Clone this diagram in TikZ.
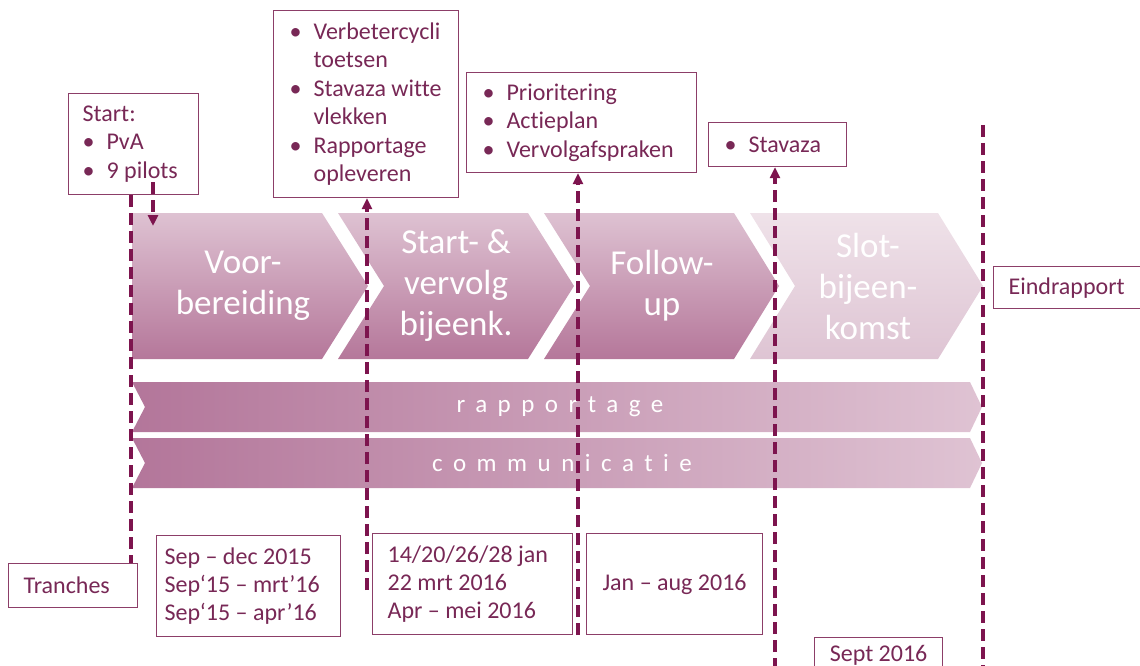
\documentclass[tikz,border=0pt]{standalone}
\usepackage{fontspec}
\setmainfont{Carlito}[Ligatures={TeX,NoCommon}]
\usetikzlibrary{arrows.meta}

\definecolor{plum}{RGB}{125,20,78}
\definecolor{boxline}{RGB}{140,62,104}
\definecolor{boxtext}{RGB}{120,40,86}
\definecolor{chevtop}{RGB}{222,194,210}
\definecolor{chevbot}{RGB}{181,119,154}
\definecolor{lasttop}{RGB}{239,226,233}
\definecolor{lastbot}{RGB}{222,196,211}
\definecolor{bandleft}{RGB}{179,118,154}
\definecolor{bandright}{RGB}{223,195,211}

\newcommand{\blt}{\makebox[24pt][l]{\textbullet}}
\newcommand{\bltind}{\hspace*{24pt}}

\begin{document}
\begin{tikzpicture}[x=1pt, y=-1pt,
  infobox/.style={draw=boxline, line width=1.2pt, text=boxtext, fill=white,
    font=\fontsize{24}{28.4}\selectfont, align=flush left, inner ysep=0pt,
    anchor=north west},
  phase/.style={text=white, font=\fontsize{35}{41}\selectfont, align=flush center},
  banner/.style={text=white,
    font=\fontsize{25}{28}\selectfont\addfontfeature{LetterSpace=42}},
  timeline/.style={draw=plum, line width=3.6pt, dash pattern=on 12pt off 6pt},
  tip/.style={-{Triangle[length=11pt,width=10pt]}}]

  \useasboundingbox (0,0) rectangle (1140,666);

  % Phase chevrons
  \shade[top color=chevtop, bottom color=chevbot]
    (132,213) -- (322,213) -- (368,286) -- (322,359) -- (132,359) -- cycle;
  \shade[top color=chevtop, bottom color=chevbot]
    (338,213) -- (528,213) -- (574,286) -- (528,359) -- (338,359) -- (384,286) -- cycle;
  \shade[top color=chevtop, bottom color=chevbot]
    (544,213) -- (734,213) -- (779,286) -- (734,359) -- (544,359) -- (590,286) -- cycle;
  \shade[top color=lasttop, bottom color=lastbot]
    (750,213) -- (938,213) -- (983,286) -- (938,359) -- (750,359) -- (795,286) -- cycle;

  \node[phase] (voor)   at (243,286) {Voor-\\bereiding};
  \node[phase] (startv) at (456,286) {Start- \&\\vervolg\\bijeenk.};
  \node[phase] (follow) at (662,286) {Follow-\\up};
  \node[phase] (slot)   at (868,286) {Slot-\\bijeen-\\komst};

  % Running bands
  \shade[left color=bandleft, right color=bandright]
    (132,382) -- (970,382) -- (982,407) -- (970,432) -- (132,432) -- (145,407) -- cycle;
  \shade[left color=bandleft, right color=bandright]
    (132,438) -- (970,438) -- (982,463) -- (970,488) -- (132,488) -- (145,463) -- cycle;

  \node[banner] (rapp) at (560,407) {rapportage};
  \node[banner] (comm) at (562,463) {communicatie};

  % Boxes above the phases
  \node[infobox, text width=102pt, inner xsep=14pt, minimum height=101pt]
    (start) at (68,93) {Start:\\\blt PvA\\\blt 9 pilots};
  \node[infobox, text width=153pt, inner xsep=16pt, minimum height=187pt]
    (cycli) at (273,10) {\blt Verbetercycli\\\bltind toetsen\\\blt Stavaza witte\\\bltind vlekken\\\blt Rapportage\\\bltind opleveren};
  \node[infobox, text width=198pt, inner xsep=16pt, minimum height=100pt]
    (prio) at (466,72) {\blt Prioritering\\\blt Actieplan\\\blt Vervolgafspraken};
  \node[infobox, text width=106pt, inner xsep=16pt, minimum height=44pt]
    (stav) at (708,122) {\blt Stavaza};
  \node[infobox, text width=135pt, inner xsep=15pt, minimum height=42pt]
    (eind) at (993,266) {Eindrapport};

  % Boxes with the dates
  \node[infobox, text width=99pt, inner xsep=15pt, minimum height=44pt]
    (tranch) at (8,563) {Tranches};
  \node[infobox, text width=168pt, inner xsep=8pt, minimum height=101pt]
    (d1) at (156,535) {Sep – dec 2015\\Sep‘15 – mrt’16\\Sep‘15 – apr’16};
  \node[infobox, text width=170pt, inner xsep=15pt, minimum height=101pt]
    (d2) at (372,533) {14/20/26/28 jan\\22 mrt 2016\\Apr – mei 2016};
  \node[infobox, text width=176pt, inner xsep=0pt, minimum height=101pt, align=flush center]
    (d3) at (586,533) {Jan – aug 2016};
  \node[infobox, text width=128pt, inner xsep=0pt, minimum height=36pt, align=flush center]
    (d4) at (814,637) {Sept 2016};

  % Free ends of the time lines
  \coordinate (t0) at (131,0);
  \coordinate (a0) at (153,182);
  \coordinate (a1) at (153,226);
  \coordinate (t1) at (367,590);
  \coordinate (t2) at (578,635);
  \coordinate (t3) at (775,670);
  \coordinate (e0) at (983,125);
  \coordinate (e1) at (983,670);

  % Time lines
  \draw[timeline] (start.south -| t0) -- (tranch.north -| t0);
  \draw[timeline, tip] (a0) -- (a1);
  \draw[timeline, tip] (t1) -- (cycli.south -| t1);
  \draw[timeline, tip] (t2) -- (prio.south -| t2);
  \draw[timeline, tip] (t3) -- (stav.south -| t3);
  \draw[timeline] (e0) -- (e1);

\end{tikzpicture}
\end{document}
